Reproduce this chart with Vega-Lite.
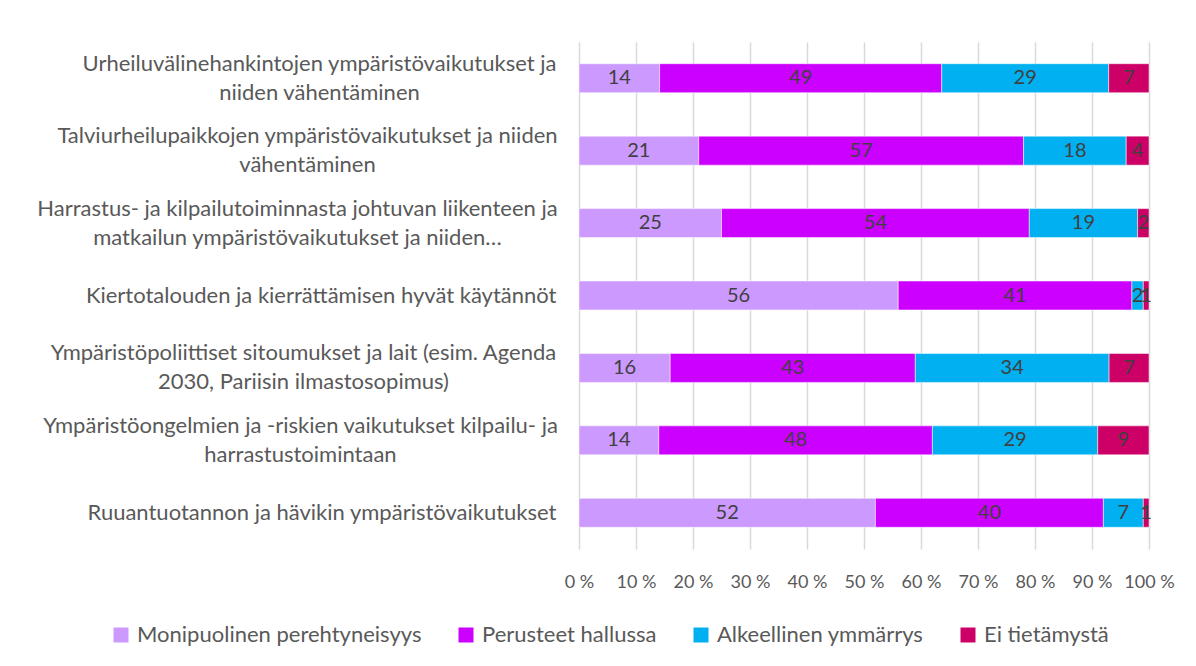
{
  "$schema": "https://vega.github.io/schema/vega-lite/v6.json",
  "width": 570,
  "height": 507,
  "autosize": "none",
  "padding": {"left": 579, "top": 42, "right": 47, "bottom": 117},
  "background": "white",
  "config": {
    "view": {"stroke": null},
    "font": "Lato",
    "axis": {"labelFont": "Lato", "labelColor": "#595959"}
  },
  "data": {
    "values": [
      {"cat": "Urheiluvälinehankintojen ympäristövaikutukset ja|niiden vähentäminen", "group": "Monipuolinen perehtyneisyys", "o": 1, "value": 14},
      {"cat": "Urheiluvälinehankintojen ympäristövaikutukset ja|niiden vähentäminen", "group": "Perusteet hallussa", "o": 2, "value": 49},
      {"cat": "Urheiluvälinehankintojen ympäristövaikutukset ja|niiden vähentäminen", "group": "Alkeellinen ymmärrys", "o": 3, "value": 29},
      {"cat": "Urheiluvälinehankintojen ympäristövaikutukset ja|niiden vähentäminen", "group": "Ei tietämystä", "o": 4, "value": 7},
      {"cat": "Talviurheilupaikkojen ympäristövaikutukset ja niiden|vähentäminen", "group": "Monipuolinen perehtyneisyys", "o": 1, "value": 21},
      {"cat": "Talviurheilupaikkojen ympäristövaikutukset ja niiden|vähentäminen", "group": "Perusteet hallussa", "o": 2, "value": 57},
      {"cat": "Talviurheilupaikkojen ympäristövaikutukset ja niiden|vähentäminen", "group": "Alkeellinen ymmärrys", "o": 3, "value": 18},
      {"cat": "Talviurheilupaikkojen ympäristövaikutukset ja niiden|vähentäminen", "group": "Ei tietämystä", "o": 4, "value": 4},
      {"cat": "Harrastus- ja kilpailutoiminnasta johtuvan liikenteen ja|matkailun ympäristövaikutukset ja niiden…", "group": "Monipuolinen perehtyneisyys", "o": 1, "value": 25},
      {"cat": "Harrastus- ja kilpailutoiminnasta johtuvan liikenteen ja|matkailun ympäristövaikutukset ja niiden…", "group": "Perusteet hallussa", "o": 2, "value": 54},
      {"cat": "Harrastus- ja kilpailutoiminnasta johtuvan liikenteen ja|matkailun ympäristövaikutukset ja niiden…", "group": "Alkeellinen ymmärrys", "o": 3, "value": 19},
      {"cat": "Harrastus- ja kilpailutoiminnasta johtuvan liikenteen ja|matkailun ympäristövaikutukset ja niiden…", "group": "Ei tietämystä", "o": 4, "value": 2},
      {"cat": "Kiertotalouden ja kierrättämisen hyvät käytännöt", "group": "Monipuolinen perehtyneisyys", "o": 1, "value": 56},
      {"cat": "Kiertotalouden ja kierrättämisen hyvät käytännöt", "group": "Perusteet hallussa", "o": 2, "value": 41},
      {"cat": "Kiertotalouden ja kierrättämisen hyvät käytännöt", "group": "Alkeellinen ymmärrys", "o": 3, "value": 2},
      {"cat": "Kiertotalouden ja kierrättämisen hyvät käytännöt", "group": "Ei tietämystä", "o": 4, "value": 1},
      {"cat": "Ympäristöpoliittiset sitoumukset ja lait (esim. Agenda|2030, Pariisin ilmastosopimus)", "group": "Monipuolinen perehtyneisyys", "o": 1, "value": 16},
      {"cat": "Ympäristöpoliittiset sitoumukset ja lait (esim. Agenda|2030, Pariisin ilmastosopimus)", "group": "Perusteet hallussa", "o": 2, "value": 43},
      {"cat": "Ympäristöpoliittiset sitoumukset ja lait (esim. Agenda|2030, Pariisin ilmastosopimus)", "group": "Alkeellinen ymmärrys", "o": 3, "value": 34},
      {"cat": "Ympäristöpoliittiset sitoumukset ja lait (esim. Agenda|2030, Pariisin ilmastosopimus)", "group": "Ei tietämystä", "o": 4, "value": 7},
      {"cat": "Ympäristöongelmien ja -riskien vaikutukset kilpailu- ja|harrastustoimintaan", "group": "Monipuolinen perehtyneisyys", "o": 1, "value": 14},
      {"cat": "Ympäristöongelmien ja -riskien vaikutukset kilpailu- ja|harrastustoimintaan", "group": "Perusteet hallussa", "o": 2, "value": 48},
      {"cat": "Ympäristöongelmien ja -riskien vaikutukset kilpailu- ja|harrastustoimintaan", "group": "Alkeellinen ymmärrys", "o": 3, "value": 29},
      {"cat": "Ympäristöongelmien ja -riskien vaikutukset kilpailu- ja|harrastustoimintaan", "group": "Ei tietämystä", "o": 4, "value": 9},
      {"cat": "Ruuantuotannon ja hävikin ympäristövaikutukset", "group": "Monipuolinen perehtyneisyys", "o": 1, "value": 52},
      {"cat": "Ruuantuotannon ja hävikin ympäristövaikutukset", "group": "Perusteet hallussa", "o": 2, "value": 40},
      {"cat": "Ruuantuotannon ja hävikin ympäristövaikutukset", "group": "Alkeellinen ymmärrys", "o": 3, "value": 7},
      {"cat": "Ruuantuotannon ja hävikin ympäristövaikutukset", "group": "Ei tietämystä", "o": 4, "value": 1}
    ]
  },
  "transform": [
    {"stack": "value", "groupby": ["cat"], "sort": [{"field": "o", "order": "ascending"}], "offset": "normalize", "as": ["v0", "v1"]},
    {"calculate": "(datum.v0 + datum.v1) / 2", "as": "mid"}
  ],
  "encoding": {
    "y": {
      "field": "cat",
      "type": "nominal",
      "sort": null,
      "scale": {"paddingInner": 0.6, "paddingOuter": 0.3},
      "axis": {
        "title": null,
        "ticks": false,
        "domain": false,
        "labelExpr": "split(datum.label, '|')",
        "labelAlign": {"condition": {"test": "indexof(datum.value, '|') >= 0", "value": "center"}, "value": "right"},
        "labelBaseline": "middle",
        "labelPadding": {
          "condition": [
            {"test": "indexof(datum.value, 'Urheilu') == 0", "value": 260},
            {"test": "indexof(datum.value, 'Talvi') == 0", "value": 272},
            {"test": "indexof(datum.value, 'Harrastus') == 0", "value": 282},
            {"test": "indexof(datum.value, 'Ympäristöpol') == 0", "value": 276},
            {"test": "indexof(datum.value, 'Ympäristöong') == 0", "value": 279}
          ],
          "value": 23
        },
        "labelFontSize": 22,
        "labelLineHeight": 29,
        "labelOffset": {"condition": {"test": "indexof(datum.value, '|') >= 0", "value": -14.5}, "value": 0},
        "labelColor": "#595959",
        "labelLimit": 700
      }
    }
  },
  "layer": [
    {
      "mark": {"type": "bar", "stroke": "white", "strokeWidth": 0.5},
      "encoding": {
        "x": {
          "field": "v0",
          "type": "quantitative",
          "scale": {"domain": [0, 1], "nice": false},
          "axis": {
            "title": null,
            "values": [0, 0.1, 0.2, 0.3, 0.4, 0.5, 0.6, 0.7, 0.8, 0.9, 1],
            "labelExpr": "round(datum.value * 100) + ' %'",
            "labelOverlap": false,
            "labelFlush": false,
            "grid": true,
            "gridColor": "#d9d9d9",
            "gridWidth": 1.5,
            "domain": false,
            "ticks": false,
            "labelFontSize": 18,
            "labelPadding": 24,
            "labelColor": "#595959"
          }
        },
        "x2": {"field": "v1"},
        "color": {
          "field": "group",
          "type": "nominal",
          "sort": ["Monipuolinen perehtyneisyys", "Perusteet hallussa", "Alkeellinen ymmärrys", "Ei tietämystä"],
          "scale": {
            "domain": ["Monipuolinen perehtyneisyys", "Perusteet hallussa", "Alkeellinen ymmärrys", "Ei tietämystä"],
            "range": ["#cc99ff", "#cc00ff", "#00b0f0", "#cc0066"]
          },
          "legend": {
            "title": null,
            "orient": "none",
            "direction": "horizontal",
            "legendX": -469,
            "legendY": 582,
            "symbolType": "square",
            "symbolSize": 225,
            "symbolStrokeWidth": 0,
            "symbolOpacity": 1,
            "labelOffset": 5,
            "labelFontSize": 22,
            "labelColor": "#595959",
            "labelFont": "Lato",
            "columnPadding": 33,
            "labelLimit": 400
          }
        }
      }
    },
    {
      "mark": {"type": "text", "fontSize": 20, "color": "#404040", "font": "Lato", "baseline": "middle"},
      "encoding": {
        "x": {"field": "mid", "type": "quantitative"},
        "text": {"field": "value", "type": "quantitative"}
      }
    }
  ]
}
